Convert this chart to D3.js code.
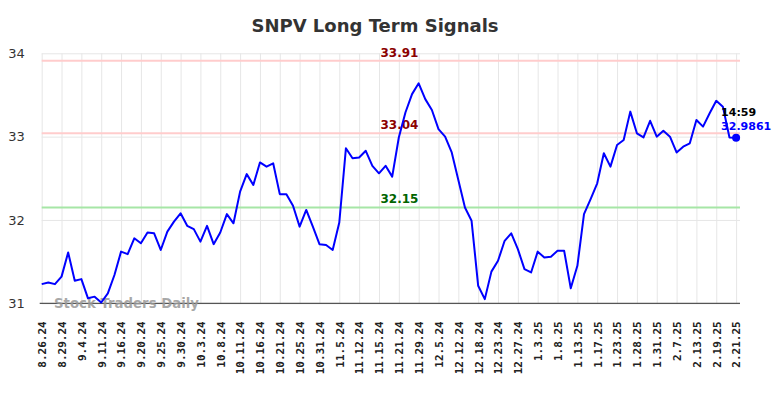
<!DOCTYPE html>
<html>
<head>
<meta charset="utf-8">
<script src="https://cdn.jsdelivr.net/npm/d3@7"></script>
<style>
  body { margin: 0; background: #fff; }
  svg { display: block; }
</style>
</head>
<body>
<div id="chart"></div>
<script>
const dateLabels = ['8.26.24', '8.29.24', '9.4.24', '9.11.24', '9.16.24', '9.20.24', '9.25.24', '9.30.24',
    '10.3.24', '10.8.24', '10.11.24', '10.16.24', '10.21.24', '10.25.24', '10.31.24', '11.5.24',
    '11.12.24', '11.15.24', '11.21.24', '11.29.24', '12.5.24', '12.12.24', '12.18.24', '12.23.24',
    '12.27.24', '1.3.25', '1.8.25', '1.13.25', '1.17.25', '1.23.25', '1.28.25', '1.31.25',
    '2.7.25', '2.13.25', '2.19.25', '2.21.25'];

const prices = [
    31.23, 31.25, 31.23, 31.32, 31.61, 31.27, 31.29, 31.06, 31.08, 31.01,
    31.12, 31.34, 31.62, 31.59, 31.78, 31.72, 31.85, 31.84, 31.64, 31.86,
    31.98, 32.08, 31.93, 31.89, 31.74, 31.93, 31.71, 31.85, 32.07, 31.96,
    32.34, 32.55, 32.42, 32.69, 32.64, 32.68, 32.31, 32.31, 32.17, 31.92,
    32.12, 31.92, 31.71, 31.70, 31.64, 31.97, 32.86, 32.74, 32.75, 32.83,
    32.65, 32.56, 32.65, 32.52, 32.99, 33.29, 33.51, 33.64, 33.45, 33.32,
    33.09, 33.00, 32.81, 32.48, 32.15, 31.99, 31.21, 31.05, 31.38, 31.51,
    31.75, 31.84, 31.65, 31.41, 31.37, 31.62, 31.55, 31.56, 31.63, 31.63,
    31.18, 31.45, 32.07, 32.25, 32.44, 32.80, 32.64, 32.90, 32.96, 33.30,
    33.04, 32.99, 33.19, 33.00, 33.07, 33.00, 32.81, 32.88, 32.92, 33.20,
    33.12, 33.28, 33.43, 33.36, 32.99, 32.9861
];

const yTicks = [31, 32, 33, 34];
const signalLevels = [33.91, 33.04, 32.15];
const signalKinds = ['resist', 'resist', 'support'];
const lastTime = '14:59';

const labelStep = 3;

function drawChart() {
    const width = 784;
    const height = 398;
    const plot = { left: 41.7, right: 740, top: 53.3, bottom: 303.3 };

    const svg = d3.select('#chart').append('svg')
        .attr('width', width)
        .attr('height', height);

    const x = d3.scaleLinear()
        .domain([0, prices.length - 1])
        .range([plot.left, 736.1]);

    const y = d3.scaleLinear()
        .domain([31, 34])
        .range([plot.bottom, plot.top]);

    // title
    svg.append('text')
        .attr('x', 375)
        .attr('y', 32)
        .attr('text-anchor', 'middle')
        .style('font-family', 'DejaVu Sans')
        .style('font-weight', 'bold')
        .style('font-size', '18px')
        .style('fill', '#333')
        .text('SNPV Long Term Signals');

    // horizontal grid + y labels
    const yAxis = d3.axisLeft(y)
        .tickValues(yTicks)
        .tickSize(-(plot.right - plot.left))
        .tickPadding(17)
        .tickFormat(d3.format('d'));
    const yg = svg.append('g')
        .attr('transform', 'translate(' + plot.left + ',0)')
        .call(yAxis);
    yg.select('.domain').remove();
    yg.selectAll('line').attr('stroke', '#e6e6e6').attr('stroke-width', 1);
    yg.selectAll('text')
        .style('font-family', 'DejaVu Sans')
        .style('font-size', '13px')
        .style('fill', '#333');

    // vertical grid + date labels
    const tickIdx = dateLabels.map((d, i) => i * labelStep);
    const xAxis = d3.axisBottom(x)
        .tickValues(tickIdx)
        .tickSize(-(plot.bottom - plot.top))
        .tickPadding(0)
        .tickFormat(i => dateLabels[i / labelStep]);
    const xg = svg.append('g')
        .attr('transform', 'translate(0,' + plot.bottom + ')')
        .call(xAxis);
    xg.select('.domain').remove();
    xg.selectAll('line').attr('stroke', '#e6e6e6').attr('stroke-width', 1);
    xg.selectAll('text')
        .attr('transform', 'rotate(-90)')
        .attr('x', -18)
        .attr('y', 0)
        .attr('dy', '0.35em')
        .attr('text-anchor', 'end')
        .style('font-family', 'DejaVu Sans Mono')
        .style('font-weight', 'bold')
        .style('font-size', '11px')
        .style('fill', '#222');

    // bottom axis line
    svg.append('line')
        .attr('x1', plot.left - 2)
        .attr('x2', plot.right)
        .attr('y1', plot.bottom)
        .attr('y2', plot.bottom)
        .attr('stroke', '#555')
        .attr('stroke-width', 1.2);

    // watermark
    svg.append('text')
        .attr('x', 54)
        .attr('y', 307.5)
        .style('font-family', 'DejaVu Sans')
        .style('font-weight', 'bold')
        .style('font-size', '13.3px')
        .style('fill', '#999')
        .style('fill-opacity', 0.85)
        .text('Stock Traders Daily');

    // signal lines
    signalLevels.forEach((lvl, i) => {
        const resist = signalKinds[i] === 'resist';
        svg.append('line')
            .attr('x1', plot.left)
            .attr('x2', plot.right)
            .attr('y1', y(lvl))
            .attr('y2', y(lvl))
            .attr('stroke', resist ? '#ffcccc' : '#a6e6a6')
            .attr('stroke-width', 2);
        svg.append('text')
            .attr('x', 399.5)
            .attr('y', y(lvl) - 4)
            .attr('text-anchor', 'middle')
            .style('font-family', 'DejaVu Sans')
            .style('font-weight', 'bold')
            .style('font-size', '12px')
            .style('fill', resist ? '#8b0000' : '#006400')
            .text(lvl.toFixed(2));
    });

    // price line
    const line = d3.line()
        .x((d, i) => x(i))
        .y(d => y(d));
    svg.append('path')
        .datum(prices)
        .attr('d', line)
        .attr('fill', 'none')
        .attr('stroke', '#0000ff')
        .attr('stroke-width', 2)
        .attr('stroke-linejoin', 'round');

    // last point
    const lastI = prices.length - 1;
    const last = prices[lastI];
    svg.append('circle')
        .attr('cx', x(lastI))
        .attr('cy', y(last))
        .attr('r', 4)
        .attr('fill', '#0000ff');

    svg.append('text')
        .attr('x', x(lastI) - 15)
        .attr('y', y(last) - 22)
        .style('font-family', 'DejaVu Sans')
        .style('font-weight', 'bold')
        .style('font-size', '11px')
        .style('fill', '#000')
        .text(lastTime);
    svg.append('text')
        .attr('x', x(lastI) - 15)
        .attr('y', y(last) - 8)
        .style('font-family', 'DejaVu Sans')
        .style('font-weight', 'bold')
        .style('font-size', '11px')
        .style('fill', '#0000ff')
        .text(last.toFixed(4));
}

drawChart();
</script>
</body>
</html>
